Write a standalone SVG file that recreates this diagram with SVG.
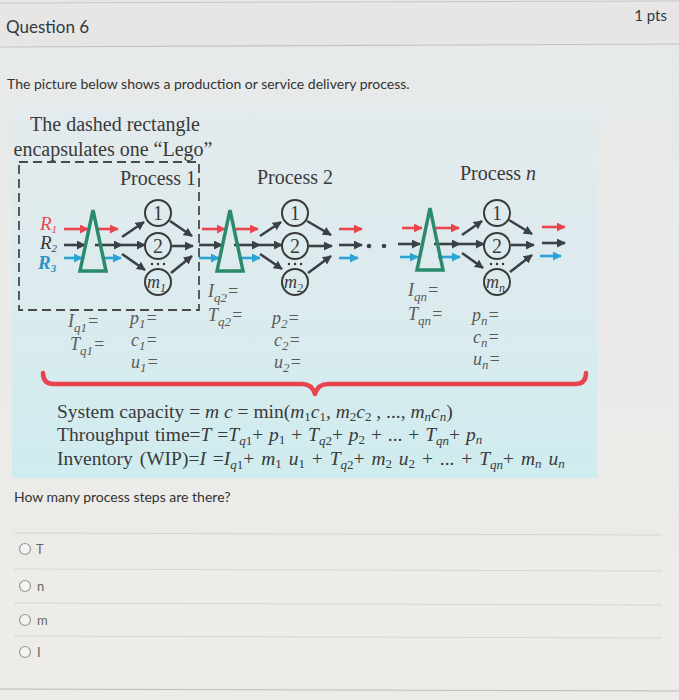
<svg xmlns="http://www.w3.org/2000/svg" width="679" height="700" viewBox="0 0 679 700">
<defs>
<linearGradient id="bg" x1="0" y1="0" x2="0" y2="1">
<stop offset="0" stop-color="#e6e9ea"/>
<stop offset="1" stop-color="#eeece8"/>
</linearGradient>
<linearGradient id="panel" x1="0" y1="0" x2="0" y2="1">
<stop offset="0" stop-color="#e4eaed"/>
<stop offset="0.55" stop-color="#dbebee"/>
<stop offset="1" stop-color="#cfecef"/>
</linearGradient>
<marker id="aR" viewBox="0 0 10 10" refX="9" refY="5" markerWidth="9" markerHeight="9" markerUnits="userSpaceOnUse" orient="auto"><path d="M0,0 L10,5 L0,10 z" fill="#e8474f"/></marker>
<marker id="aD" viewBox="0 0 10 10" refX="9" refY="5" markerWidth="9" markerHeight="9" markerUnits="userSpaceOnUse" orient="auto"><path d="M0,0 L10,5 L0,10 z" fill="#3b4046"/></marker>
<marker id="aB" viewBox="0 0 10 10" refX="9" refY="5" markerWidth="9" markerHeight="9" markerUnits="userSpaceOnUse" orient="auto"><path d="M0,0 L10,5 L0,10 z" fill="#2ba3d4"/></marker>
<style>
.ui{font-family:Lato,"Open Sans","DejaVu Sans",sans-serif}
.f{font-family:"Liberation Serif","Times New Roman",serif;fill:#3a3a3a}
.i{font-style:italic}
.s{font-size:13px}
.lbl{font-family:"Liberation Serif","Times New Roman",serif;font-style:italic;font-size:18px;fill:#5a5a5a}
.tri{fill:none;stroke:#2b8a6b;stroke-width:3.5;stroke-linejoin:miter}
.cir{fill:none;stroke:#3a3a3a;stroke-width:2}
.r{stroke:#e8474f;stroke-width:2.6;fill:none;marker-end:url(#aR)}
.d{stroke:#3b4046;stroke-width:2.6;fill:none;marker-end:url(#aD)}
.b{stroke:#2ba3d4;stroke-width:2.6;fill:none;marker-end:url(#aB)}
.sep{stroke:#d6d4d0;stroke-width:1}
.radio{fill:#f4f3f1;stroke:#9a9a9a;stroke-width:1.2}
</style>
</defs>

<rect x="0" y="0" width="679" height="700" fill="url(#bg)"/>
<rect x="0" y="0" width="679" height="46" fill="#e7e6e5"/>
<line x1="0" y1="3" x2="679" y2="1" stroke="#c9c7c4" stroke-width="1"/>
<line x1="0" y1="47" x2="679" y2="44" stroke="#c4c2bf" stroke-width="1.2"/>
<text class="ui" x="6" y="33" font-size="17" fill="#2d3b45">Question 6</text>
<text class="ui" x="667" y="21" font-size="15" fill="#2d3b45" text-anchor="end">1 pts</text>
<text class="ui" x="7" y="89" font-size="14" fill="#333">The picture below shows a production or service delivery process.</text>

<rect x="12" y="103" width="585" height="375" fill="url(#panel)"/>

<text class="f" x="115" y="131" font-size="20" text-anchor="middle">The dashed rectangle</text>
<text class="f" x="113" y="156" font-size="20" text-anchor="middle">encapsulates one “Lego”</text>

<rect id="lego" x="19" y="162" width="180" height="148" fill="none" stroke="#4a4a4a" stroke-width="1.8" stroke-dasharray="9 5"/>

<g id="connectors">
<!-- process 1 -->
<path class="r" d="M64,229 H88"/>
<path class="r" d="M97,229 H118"/>
<path class="d" d="M64,245 H85"/>
<path class="d" d="M95,245 H122"/>
<path class="d" d="M122,245 H145"/>
<path class="b" d="M64,258 H82"/>
<path class="b" d="M103,258 H121"/>
<path class="d" d="M122,237 L144,222"/>
<path class="d" d="M122,254 L145,270"/>
<path class="d" d="M170,221 L192,236"/>
<path class="d" d="M172,246 H193"/>
<path class="d" d="M171,273 L192,256"/>
<!-- between 1 and 2 -->
<path class="r" d="M202,229 H225"/>
<path class="d" d="M199,245 H222"/>
<path class="b" d="M199,258 H219"/>
<!-- process 2 -->
<path class="r" d="M236,229 H258"/>
<path class="d" d="M234,245 H260"/>
<path class="d" d="M260,245 H282"/>
<path class="b" d="M240,258 H260"/>
<path class="d" d="M260,236 L281,222"/>
<path class="d" d="M260,254 L282,269"/>
<path class="d" d="M307,221 L331,235"/>
<path class="d" d="M309,246 H332"/>
<path class="d" d="M308,273 L331,256"/>
<path class="r" d="M339,229 H362"/>
<path class="d" d="M339,245 H362"/>
<path class="b" d="M339,258 H358"/>
<circle cx="369" cy="246" r="2.3" fill="#3b4046"/>
<circle cx="384" cy="246" r="2.3" fill="#3b4046"/>
<!-- process n -->
<path class="r" d="M402,228 H422"/>
<path class="d" d="M398,244 H420"/>
<path class="b" d="M400,257 H418"/>
<path class="r" d="M436,228 H459"/>
<path class="d" d="M434,244 H460"/>
<path class="d" d="M460,244 H484"/>
<path class="b" d="M438,257 H460"/>
<path class="d" d="M462,235 L482,221"/>
<path class="d" d="M462,253 L483,268"/>
<path class="d" d="M509,220 L532,234"/>
<path class="d" d="M511,245 H534"/>
<path class="d" d="M510,272 L532,255"/>
<path class="r" d="M542,227 H565"/>
<path class="d" d="M542,243 H565"/>
<path class="b" d="M540,256 H561"/>
</g>

<g id="process1">
<text class="f" x="120" y="185" font-size="20">Process 1</text>
<polygon class="tri" points="93,210 80,271 106,271"/>
<circle class="cir" cx="158" cy="213" r="13"/>
<circle class="cir" cx="158" cy="246" r="13"/>
<circle class="cir" cx="158" cy="282" r="13"/>
<text class="f" x="158" y="220" font-size="20" text-anchor="middle">1</text>
<text class="f" x="158" y="253" font-size="20" text-anchor="middle">2</text>
<circle cx="152" cy="264" r="1.2" fill="#333"/><circle cx="158" cy="264" r="1.2" fill="#333"/><circle cx="164" cy="264" r="1.2" fill="#333"/>
<text class="f i" x="147" y="288" font-size="18">m<tspan dy="4" font-size="12">1</tspan></text>
<text class="f i" x="40" y="230" font-size="19" style="fill:#e8474f">R<tspan dy="3" font-size="11">1</tspan></text>
<text class="f i" x="40" y="249" font-size="19">R<tspan dy="3" font-size="11">2</tspan></text>
<text class="f i" x="38" y="269" font-size="19" font-weight="bold" style="fill:#2a92c4">R<tspan dy="3" font-size="11">3</tspan></text>
<text class="lbl" x="68" y="327">I<tspan dy="5" font-size="13">q1</tspan><tspan dy="-5">=</tspan></text>
<text class="lbl" x="70" y="350">T<tspan dy="5" font-size="13">q1</tspan><tspan dy="-5">=</tspan></text>
<text class="lbl" x="130" y="324">p<tspan dy="4" font-size="13">1</tspan><tspan dy="-4">=</tspan></text>
<text class="lbl" x="131" y="346">c<tspan dy="4" font-size="13">1</tspan><tspan dy="-4">=</tspan></text>
<text class="lbl" x="131" y="368">u<tspan dy="4" font-size="13">1</tspan><tspan dy="-4">=</tspan></text>
</g>

<g id="process2">
<text class="f" x="295" y="184" font-size="20" text-anchor="middle">Process 2</text>
<polygon class="tri" points="230,210 217,271 243,271"/>
<circle class="cir" cx="295" cy="213" r="13"/>
<circle class="cir" cx="295" cy="246" r="13"/>
<circle class="cir" cx="295" cy="282" r="13"/>
<text class="f" x="295" y="220" font-size="20" text-anchor="middle">1</text>
<text class="f" x="295" y="253" font-size="20" text-anchor="middle">2</text>
<circle cx="289" cy="264" r="1.2" fill="#333"/><circle cx="295" cy="264" r="1.2" fill="#333"/><circle cx="301" cy="264" r="1.2" fill="#333"/>
<text class="f i" x="284" y="288" font-size="18">m<tspan dy="4" font-size="12">2</tspan></text>
<text class="lbl" x="208" y="297">I<tspan dy="5" font-size="13">q2</tspan><tspan dy="-5">=</tspan></text>
<text class="lbl" x="208" y="321">T<tspan dy="5" font-size="13">q2</tspan><tspan dy="-5">=</tspan></text>
<text class="lbl" x="272" y="324">p<tspan dy="4" font-size="13">2</tspan><tspan dy="-4">=</tspan></text>
<text class="lbl" x="274" y="346">c<tspan dy="4" font-size="13">2</tspan><tspan dy="-4">=</tspan></text>
<text class="lbl" x="274" y="368">u<tspan dy="4" font-size="13">2</tspan><tspan dy="-4">=</tspan></text>
</g>

<g id="processN">
<text class="f" x="460" y="180" font-size="20">Process <tspan class="i">n</tspan></text>
<polygon class="tri" points="430,208 417,270 443,270"/>
<circle class="cir" cx="497" cy="213" r="13"/>
<circle class="cir" cx="497" cy="246" r="13"/>
<circle class="cir" cx="497" cy="282" r="13"/>
<text class="f" x="497" y="220" font-size="20" text-anchor="middle">1</text>
<text class="f" x="497" y="253" font-size="20" text-anchor="middle">2</text>
<circle cx="491" cy="264" r="1.2" fill="#333"/><circle cx="497" cy="264" r="1.2" fill="#333"/><circle cx="503" cy="264" r="1.2" fill="#333"/>
<text class="f i" x="486" y="288" font-size="18">m<tspan dy="4" font-size="12">n</tspan></text>
<text class="lbl" x="408" y="296">I<tspan dy="5" font-size="13">qn</tspan><tspan dy="-5">=</tspan></text>
<text class="lbl" x="408" y="320">T<tspan dy="5" font-size="13">qn</tspan><tspan dy="-5">=</tspan></text>
<text class="lbl" x="472" y="321">p<tspan dy="4" font-size="13">n</tspan><tspan dy="-4">=</tspan></text>
<text class="lbl" x="473" y="343">c<tspan dy="4" font-size="13">n</tspan><tspan dy="-4">=</tspan></text>
<text class="lbl" x="473" y="365">u<tspan dy="4" font-size="13">n</tspan><tspan dy="-4">=</tspan></text>
</g>

<path id="brace" d="M43,373 Q43,384 54,384 L302,384 Q312,384 315,394 Q318,384 328,384 L575,384 Q586,384 586,373" fill="none" stroke="#e8434f" stroke-width="4.5" stroke-linecap="round" stroke-linejoin="round"/>

<g id="formulas" class="f" font-size="19.5">
<text x="57" y="418">System capacity = <tspan class="i">m c</tspan> = min(<tspan class="i">m</tspan><tspan dy="3" class="s">1</tspan><tspan dy="-3" class="i">c</tspan><tspan dy="3" class="s">1</tspan><tspan dy="-3">, </tspan><tspan class="i">m</tspan><tspan dy="3" class="s">2</tspan><tspan dy="-3" class="i">c</tspan><tspan dy="3" class="s">2</tspan><tspan dy="-3"> , ..., </tspan><tspan class="i">m</tspan><tspan dy="3" class="s i">n</tspan><tspan dy="-3" class="i">c</tspan><tspan dy="3" class="s i">n</tspan><tspan dy="-3">)</tspan></text>
<text x="57" y="441" word-spacing="1">Throughput time=<tspan class="i">T</tspan> =<tspan class="i">T</tspan><tspan dy="4" class="s i">q</tspan><tspan class="s">1</tspan><tspan dy="-4">+ </tspan><tspan class="i">p</tspan><tspan dy="3" class="s">1</tspan><tspan dy="-3"> + </tspan><tspan class="i">T</tspan><tspan dy="4" class="s i">q</tspan><tspan class="s">2</tspan><tspan dy="-4">+ </tspan><tspan class="i">p</tspan><tspan dy="3" class="s">2</tspan><tspan dy="-3"> + ... + </tspan><tspan class="i">T</tspan><tspan dy="4" class="s i">qn</tspan><tspan dy="-4">+ </tspan><tspan class="i">p</tspan><tspan dy="3" class="s i">n</tspan></text>
<text x="57" y="465" word-spacing="2">Inventory (WIP)=<tspan class="i">I</tspan> =<tspan class="i">I</tspan><tspan dy="4" class="s i">q</tspan><tspan class="s">1</tspan><tspan dy="-4">+ </tspan><tspan class="i">m</tspan><tspan dy="3" class="s">1</tspan><tspan dy="-3"> </tspan><tspan class="i">u</tspan><tspan dy="3" class="s">1</tspan><tspan dy="-3"> + </tspan><tspan class="i">T</tspan><tspan dy="4" class="s i">q</tspan><tspan class="s">2</tspan><tspan dy="-4">+ </tspan><tspan class="i">m</tspan><tspan dy="3" class="s">2</tspan><tspan dy="-3"> </tspan><tspan class="i">u</tspan><tspan dy="3" class="s">2</tspan><tspan dy="-3"> + ... + </tspan><tspan class="i">T</tspan><tspan dy="4" class="s i">qn</tspan><tspan dy="-4">+ </tspan><tspan class="i">m</tspan><tspan dy="3" class="s i">n</tspan><tspan dy="-3"> </tspan><tspan class="i">u</tspan><tspan dy="3" class="s i">n</tspan></text>
</g>

<text class="ui" x="14" y="502" font-size="14" fill="#333">How many process steps are there?</text>

<g id="options">
<line class="sep" x1="14" y1="533" x2="662" y2="535"/>
<circle class="radio" cx="25" cy="549" r="5.5"/>
<text class="ui" x="36" y="554" font-size="13" fill="#666">T</text>
<line class="sep" x1="14" y1="569" x2="662" y2="571"/>
<circle class="radio" cx="25" cy="586" r="5.5"/>
<text class="ui" x="37" y="591" font-size="13" fill="#666">n</text>
<line class="sep" x1="14" y1="603" x2="662" y2="605"/>
<circle class="radio" cx="25" cy="620" r="5.5"/>
<text class="ui" x="37" y="625" font-size="13" fill="#666">m</text>
<line class="sep" x1="14" y1="636" x2="662" y2="638"/>
<circle class="radio" cx="25" cy="652" r="5.5"/>
<text class="ui" x="37" y="657" font-size="13" fill="#666">I</text>
<line x1="0" y1="689" x2="679" y2="691" stroke="#bdbbb8" stroke-width="1.2"/>
</g>
</svg>
